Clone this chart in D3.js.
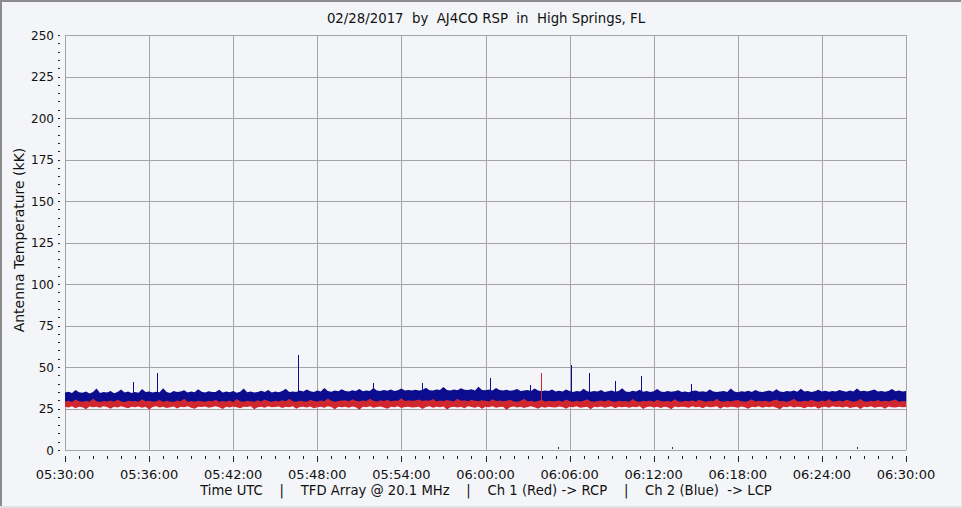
<!DOCTYPE html>
<html><head><meta charset="utf-8">
<script src="https://cdn.jsdelivr.net/npm/d3@7"></script>
<style>
body{margin:0;background:#f4f5f8}
svg{display:block}
text{font-family:"DejaVu Sans",Verdana,sans-serif;font-size:12px;fill:#111}
</style>
</head><body><svg id="c" width="962" height="508"></svg>
<script>
// ---------------- DATA ----------------
const titleText = "02/28/2017  by  AJ4CO RSP  in  High Springs, FL";
const yLabel = "Antenna Temperature (kK)";
const xLabel = "Time UTC    |    TFD Array @ 20.1 MHz    |    Ch 1 (Red) -> RCP    |    Ch 2 (Blue)  -> LCP";
const dateStr = "2017-02-28";
const startTime = "05:30:00";
const endTime = "06:30:00";
const yTicks = [0, 25, 50, 75, 100, 125, 150, 175, 200, 225, 250];

// Ch 2 (Blue) envelope: upper and lower edge of the noisy trace
const blueHi = [
34.6,35.1,34.3,36.2,34.8,34.5,35.3,34.1,34.9,37.0,34.4,35.0,34.7,35.6,34.2,34.9,36.4,34.6,35.2,34.3,
35.0,34.5,36.8,34.9,35.3,34.6,35.1,34.8,37.2,35.0,34.4,35.5,34.9,35.2,36.0,34.7,35.3,34.8,36.6,35.1,
34.7,35.4,34.9,35.0,36.3,34.6,35.2,34.8,35.6,34.5,35.1,37.1,34.8,35.3,34.6,35.0,35.7,34.9,36.2,34.7,
35.2,34.8,35.5,36.9,35.0,35.3,34.9,35.8,35.2,36.4,35.4,35.0,35.9,35.3,37.4,35.5,35.1,35.8,35.4,36.6,
35.6,35.2,36.0,35.5,36.8,35.4,35.9,35.6,37.3,35.8,35.5,36.1,35.7,36.5,35.6,36.0,37.0,35.8,36.2,35.9,
36.3,35.8,36.1,37.5,36.0,35.9,36.4,36.1,37.9,36.2,35.9,36.5,36.0,37.2,36.3,36.1,36.6,35.9,38.1,36.2,
36.0,36.4,35.8,37.3,36.1,35.9,36.3,35.7,36.0,36.8,35.6,35.9,36.2,35.5,37.0,35.8,35.4,35.9,35.6,36.5,
35.3,35.7,35.2,36.4,35.5,35.0,35.6,35.3,36.9,35.4,35.1,35.5,35.2,36.1,35.0,35.4,35.8,35.1,35.6,37.2,
35.3,35.0,35.7,35.2,36.3,35.1,35.5,34.9,35.4,36.8,35.2,35.0,35.6,35.1,35.4,36.0,35.0,35.3,34.8,35.5,
35.9,35.1,35.4,35.0,36.5,35.2,34.9,35.3,35.6,35.0,37.0,35.2,34.8,35.4,35.1,35.7,35.0,36.2,35.3,34.9,
35.4,35.8,35.1,36.6,35.3,35.0,35.5,35.2,35.9,35.1,36.9,35.3,35.6,35.0,35.4,36.3,35.2,35.7,35.1,35.5,
35.3,36.1,35.5,35.1,35.8,35.3,37.0,35.4,35.7,35.2,35.9,36.4,35.3,35.6,35.1,35.5,36.8,35.4,35.8,35.2,
35.6];
const blueLo = [
28.3,27.9,28.6,28.1,28.7,27.8,28.4,28.2,28.8,27.7,28.5,28.0,28.6,28.3,27.9,28.7,28.1,28.4,27.8,28.6,
28.2,28.7,27.9,28.5,28.0,28.6,28.3,27.8,28.8,28.1,28.4,27.9,28.6,28.2,28.7,28.0,28.5,27.8,28.3,28.6,
28.1,28.8,28.4,27.9,28.6,28.2,28.0,28.7,28.3,27.8,28.5,28.1,28.7,28.4,27.9,28.6,28.2,28.8,28.0,28.5,
28.4,27.9,28.7,28.2,28.6,28.0,28.5,28.3,27.8,28.7,28.1,28.6,28.4,27.9,28.8,28.2,28.5,28.0,28.7,28.3,
28.6,28.1,28.4,28.8,27.9,28.5,28.2,28.7,28.0,28.6,28.3,27.8,28.5,28.1,28.7,28.4,28.0,28.6,28.2,28.8,
28.0,28.5,28.3,27.9,28.7,28.2,28.6,28.1,28.4,28.8,27.9,28.5,28.2,28.7,28.0,28.6,28.3,28.1,28.7,28.4,
28.2,28.6,27.9,28.5,28.1,28.8,28.3,28.0,28.6,28.2,28.7,27.8,28.4,28.6,28.1,28.5,28.8,28.0,28.3,28.7,
28.5,28.0,28.7,28.2,28.4,27.9,28.6,28.3,28.8,28.1,28.5,28.0,28.7,28.3,27.9,28.6,28.2,28.5,28.1,28.7,
28.3,28.7,28.0,28.6,28.2,28.5,27.9,28.8,28.1,28.4,28.6,28.0,28.7,28.2,28.5,28.3,27.8,28.6,28.4,28.1,
28.6,28.2,28.8,28.0,28.5,28.3,28.7,27.9,28.4,28.6,28.1,28.8,28.2,28.5,28.0,28.7,28.3,28.6,27.9,28.4,
28.1,28.6,28.3,28.7,28.0,28.5,28.2,28.8,28.4,27.9,28.6,28.1,28.7,28.3,28.5,28.0,28.6,28.2,28.8,28.4,
28.7,28.2,28.5,28.0,28.6,28.3,27.9,28.7,28.1,28.5,28.4,28.8,28.0,28.6,28.2,28.7,28.3,28.5,28.1,28.6,
28.4];
// Ch 1 (Red) envelope
const redHi = [
29.2,29.7,28.9,30.4,29.3,29.0,29.6,29.1,30.8,29.4,28.9,29.5,29.2,29.8,29.0,30.2,29.4,28.8,29.6,29.3,
29.5,29.0,30.6,29.3,29.7,29.1,29.4,30.1,29.0,29.6,29.2,28.9,29.8,29.3,30.9,29.1,29.5,29.0,29.7,29.4,
29.1,29.6,29.3,30.3,29.0,29.5,29.2,29.8,28.9,30.7,29.4,29.1,29.6,29.3,29.0,29.9,29.2,30.4,29.5,29.0,
29.6,29.2,29.9,29.4,30.8,29.3,29.0,29.7,29.4,29.1,30.2,29.5,29.2,29.8,29.3,31.0,29.6,29.1,29.5,29.8,
29.9,29.4,30.5,29.7,29.3,29.8,29.5,30.9,29.6,29.2,29.9,29.5,30.3,29.4,29.8,29.6,31.1,29.5,29.9,29.7,
29.8,30.4,29.5,29.9,29.6,30.7,29.4,29.8,29.5,30.1,29.7,29.3,30.8,29.6,29.9,29.4,30.2,29.7,29.5,29.9,
29.6,29.2,30.5,29.5,29.8,29.3,29.7,30.2,29.4,29.1,29.6,30.9,29.3,29.7,29.0,29.5,30.3,29.2,29.6,29.4,
29.3,29.8,29.1,30.4,29.5,29.0,29.7,29.2,29.6,30.6,29.3,29.0,29.5,29.8,29.2,30.1,29.4,29.0,29.7,29.3,
29.5,29.1,30.7,29.4,29.0,29.6,29.3,29.8,29.1,30.2,29.5,29.2,29.7,29.0,30.5,29.4,29.1,29.6,29.3,29.8,
29.2,30.3,29.5,29.0,29.7,29.3,30.8,29.4,29.1,29.6,29.2,29.8,30.1,29.3,29.0,29.5,30.6,29.2,29.7,29.4,
29.6,29.1,29.8,30.4,29.3,29.5,29.0,29.7,30.9,29.4,29.2,29.6,29.3,30.2,29.5,29.0,29.8,29.4,30.5,29.2,
29.4,29.8,29.2,30.3,29.6,29.1,29.5,30.7,29.3,29.0,29.7,29.4,30.1,29.2,29.6,29.3,29.8,30.4,29.1,29.5,
29.4];
const redLo = [
26.0,25.6,26.3,25.2,26.1,25.8,24.6,26.2,25.7,26.0,25.4,26.4,25.9,24.9,26.1,25.6,26.3,25.8,25.1,26.0,
25.7,26.2,25.5,26.0,24.4,25.9,26.3,25.6,26.1,25.3,25.8,26.2,25.0,26.0,25.7,26.4,25.5,24.8,26.1,25.9,
26.2,25.4,25.9,26.3,25.7,24.7,26.0,25.6,26.2,25.8,25.2,26.1,25.9,26.4,24.5,25.8,26.0,25.5,26.3,25.7,
25.9,26.2,25.3,26.0,25.7,26.3,24.8,25.9,26.1,25.6,26.2,25.1,25.8,26.0,25.4,26.3,25.9,24.6,26.1,25.7,
26.0,25.5,26.2,25.8,24.3,26.1,25.7,26.3,25.4,25.9,26.2,25.6,24.9,26.0,25.8,26.3,25.3,25.9,26.1,25.6,
25.8,26.1,24.7,25.9,26.3,25.5,26.0,25.7,26.2,24.4,25.8,26.1,25.6,26.0,25.2,26.3,25.9,25.5,26.2,24.9,
26.0,25.7,26.3,25.4,25.9,26.1,24.2,25.8,26.2,25.6,26.0,25.3,25.9,26.3,25.7,24.8,26.1,25.5,26.0,25.8,
25.6,26.2,25.9,24.9,26.0,25.7,26.3,25.4,25.8,26.1,24.6,26.0,25.7,26.2,25.5,25.9,26.3,25.2,26.0,25.8,
26.1,25.5,26.0,25.8,26.3,24.7,25.9,26.2,25.6,26.0,25.3,26.1,25.8,24.5,26.2,25.7,26.0,25.9,25.4,26.3,
25.8,26.0,25.2,26.2,25.7,25.9,26.3,24.8,26.0,25.6,26.1,25.9,25.4,26.2,25.7,24.9,26.0,25.8,26.3,25.5,
26.0,25.7,26.2,25.4,24.6,26.1,25.8,26.3,25.6,26.0,25.9,25.2,26.1,25.7,26.2,24.8,25.9,26.0,25.5,26.3,
25.9,26.1,25.6,26.2,25.3,25.8,26.0,24.7,26.1,25.7,26.3,25.5,25.9,26.0,24.9,26.2,25.8,25.6,26.1,25.7,
25.9];

// isolated impulses rising out of the noise
const blueSpikeTimes = ["05:34:51","05:36:32","05:46:38","05:51:58","05:55:28","06:00:21","06:03:10","06:06:05","06:07:22","06:09:14","06:11:07","06:14:38"];
const blueSpikeValues = [41, 46.5, 57.5, 40.5, 40.5, 43.5, 39, 51.5, 46.5, 41.5, 44.5, 40];
const redSpikeTimes = ["06:03:59"];
const redSpikeValues = [46.5];
// faint marks just above zero
const zeroMarkTimes = ["06:05:10","06:13:18","06:26:30"];
const zeroMarkValues = [1.2, 1.2, 1.2];

// ---------------- CHART ----------------
const W = 962, H = 508;
const M = {left: 65, right: 906, top: 35, bottom: 450};
const parseT = d3.utcParse("%Y-%m-%d %H:%M:%S");
const T = s => parseT(dateStr + " " + s);
const t0 = T(startTime), t1 = T(endTime);

const x = d3.scaleUtc().domain([t0, t1]).range([M.left, M.right]);
const y = d3.scaleLinear().domain([0, 250]).range([M.bottom, M.top]);

const svg = d3.select("#c");
svg.append("rect").attr("width", W).attr("height", H).attr("fill", "#f4f5f8");
// bevel border
svg.append("rect").attr("x", 0).attr("y", 0).attr("width", W).attr("height", 2).attr("fill", "#8c8c8c");
svg.append("rect").attr("x", 0).attr("y", 0).attr("width", 2).attr("height", H).attr("fill", "#8c8c8c");
svg.append("rect").attr("x", 0).attr("y", H - 2).attr("width", W).attr("height", 2).attr("fill", "#e2e2e2");
svg.append("rect").attr("x", W - 1).attr("y", 0).attr("width", 1).attr("height", H).attr("fill", "#e2e2e2");

const majorX = d3.utcMinute.every(6).range(t0, new Date(+t1 + 1));
const minorX = d3.utcMinute.every(1).range(t0, new Date(+t1 + 1));
const minorY = d3.range(0, 251, 5);

const grid = svg.append("g").attr("stroke", "#a4a4a4").attr("stroke-width", 1).attr("shape-rendering", "crispEdges");
grid.selectAll(".gx").data(majorX).join("line")
  .attr("x1", d => Math.round(x(d)) + 0.5).attr("x2", d => Math.round(x(d)) + 0.5)
  .attr("y1", M.top).attr("y2", M.bottom);
grid.selectAll(".gy").data(yTicks).join("line")
  .attr("x1", M.left).attr("x2", M.right)
  .attr("y1", d => Math.round(y(d)) + 0.5).attr("y2", d => Math.round(y(d)) + 0.5);

// data
const n = blueHi.length;
const step = (t1 - t0) / (n - 1);
const tAt = i => new Date(+t0 + i * step);
const idx = d3.range(n);

const area = (hi, lo) => d3.area().x(i => x(tAt(i))).y0(i => y(lo[i])).y1(i => y(hi[i]))(idx);

const blue = "#0c0c8e", red = "#d0262e";
svg.append("path").attr("d", area(blueHi, blueLo)).attr("fill", blue);
svg.selectAll(".bs").data(blueSpikeTimes).join("line")
  .attr("x1", d => Math.round(x(T(d))) + 0.5).attr("x2", d => Math.round(x(T(d))) + 0.5)
  .attr("y1", y(33)).attr("y2", (d, i) => y(blueSpikeValues[i]))
  .attr("stroke", blue).attr("stroke-width", 1).attr("shape-rendering", "crispEdges");

svg.append("path").attr("d", area(redHi, redLo)).attr("fill", red);
svg.selectAll(".rs").data(redSpikeTimes).join("line")
  .attr("x1", d => Math.round(x(T(d))) + 0.5).attr("x2", d => Math.round(x(T(d))) + 0.5)
  .attr("y1", y(29)).attr("y2", (d, i) => y(redSpikeValues[i]))
  .attr("stroke", red).attr("stroke-width", 1).attr("shape-rendering", "crispEdges");

svg.selectAll(".zm").data(zeroMarkTimes).join("rect")
  .attr("x", d => Math.round(x(T(d)))).attr("y", (d, i) => Math.round(y(zeroMarkValues[i])) - 1)
  .attr("width", 1).attr("height", 2).attr("fill", "#333");

// y axis labels & minor ticks
svg.selectAll(".ym").data(minorY).join("rect")
  .attr("x", 58).attr("y", d => Math.round(y(d))).attr("width", 2).attr("height", 1).attr("fill", "#222");
svg.selectAll(".yl").data(yTicks).join("text")
  .attr("x", 54).attr("y", d => y(d) + 4.5).attr("text-anchor", "end").text(d => d);

// x axis ticks & labels
svg.selectAll(".xm").data(minorX).join("rect")
  .attr("x", d => Math.round(x(d))).attr("y", 456).attr("width", 1).attr("height", 3).attr("fill", "#222");
svg.selectAll(".xM").data(majorX).join("rect")
  .attr("x", d => Math.round(x(d))).attr("y", 456).attr("width", 1).attr("height", 6).attr("fill", "#222");
const fmt = d3.utcFormat("%H:%M:%S");
svg.selectAll(".xl").data(majorX).join("text")
  .attr("x", d => x(d)).attr("y", 479).attr("text-anchor", "middle").style("font-size", "13px").text(d => fmt(d));

// titles
svg.append("text").attr("x", 486).attr("y", 23).attr("text-anchor", "middle").style("font-size", "13.3px")
  .attr("xml:space", "preserve").style("white-space", "pre").text(titleText);
svg.append("text").attr("x", 486).attr("y", 495).attr("text-anchor", "middle").style("font-size", "13.2px")
  .attr("xml:space", "preserve").style("white-space", "pre").text(xLabel);
svg.append("text").attr("transform", "translate(24,240) rotate(-90)").attr("text-anchor", "middle")
  .style("font-size", "14px").text(yLabel);
</script></body></html>
